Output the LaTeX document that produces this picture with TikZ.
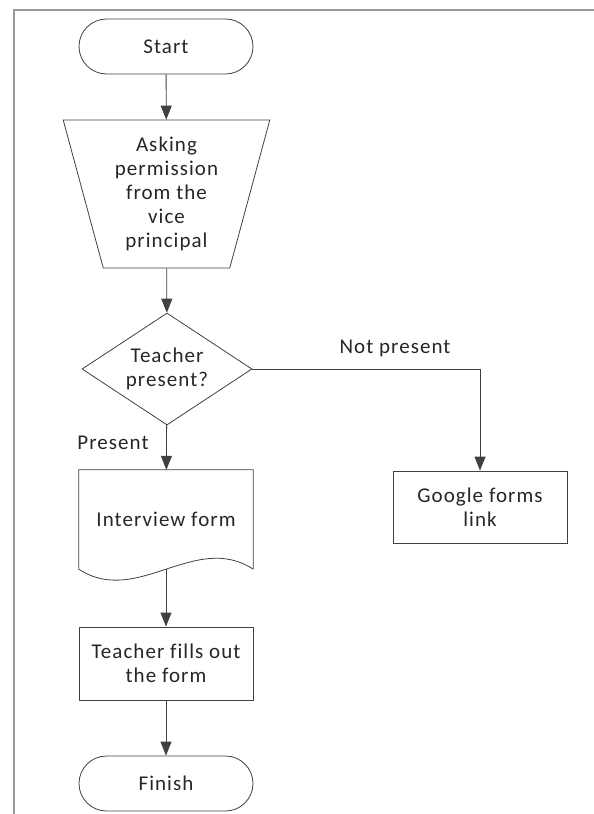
\documentclass[tikz,border=0pt]{standalone}
\usepackage{fontspec}
\setmainfont[LetterSpace=5,Ligatures=NoCommon]{Carlito}
\usetikzlibrary{shapes.geometric,shapes.misc,arrows.meta}

\begin{document}
\begin{tikzpicture}[x=1pt,y=-1pt,
    font=\fontsize{21}{24}\selectfont,
    every node/.style={text=black!85},
    line/.style={draw=black!75,line width=0.8pt},
    arrow/.style={line,-{Triangle[length=14pt,width=11pt]}},
    terminal/.style={line,rounded rectangle,minimum width=174pt,minimum height=55pt,inner sep=0pt},
    manual/.style={line,trapezium,trapezium stretches=true,shape border rotate=180,
        trapezium angle=74,minimum width=207pt,minimum height=148pt,inner sep=0pt,align=center},
    decision/.style={line,diamond,aspect=1.52,minimum width=170pt,minimum height=112pt,inner sep=0pt,align=center},
    process/.style={line,rectangle,minimum width=174pt,inner sep=0pt,align=center}]
    \useasboundingbox (0,0) rectangle (594,814);

    % Frame of the page
    \draw[black!40,line width=1.5pt] (14,814) -- (14,10) -- (594,10);

    % The steps
    \node[terminal] (start) at (166,46.5) {Start};
    \node[manual] (ask) at (166.5,194) {Asking\\permission\\from the\\vice\\principal};
    \node[decision] (check) at (167,369) {Teacher\\present?};
    \node[minimum width=174pt,minimum height=99pt,inner sep=0pt] (form) at (166,519.5) {Interview form};
    \node[process,minimum height=73pt] (fills) at (166,663.5) {Teacher fills out\\the form};
    \node[terminal] (finish) at (166,783.5) {Finish};
    \node[process,minimum height=72pt] (google) at (480,507) {Google forms\\link};

    % The document shape
    \draw[line] (form.south east) -- (form.north east) -- (form.north west) -- (form.south west)
        .. controls +(58,38) and +(-58,-38) .. (form.south east);

    % The connectors
    \draw[arrow] (start) -- (ask);
    \draw[arrow] (ask) -- (check);
    \draw[arrow] (check) -- (form);
    \draw[arrow] (check.east) -| (google.north);
    \draw[arrow] (form.south) -- (fills);
    \draw[arrow] (fills) -- (finish);

    % Labels of the branches
    \node (present) at (113,443) {Present};
    \node (notpresent) at (395,348) {Not present};
\end{tikzpicture}
\end{document}
